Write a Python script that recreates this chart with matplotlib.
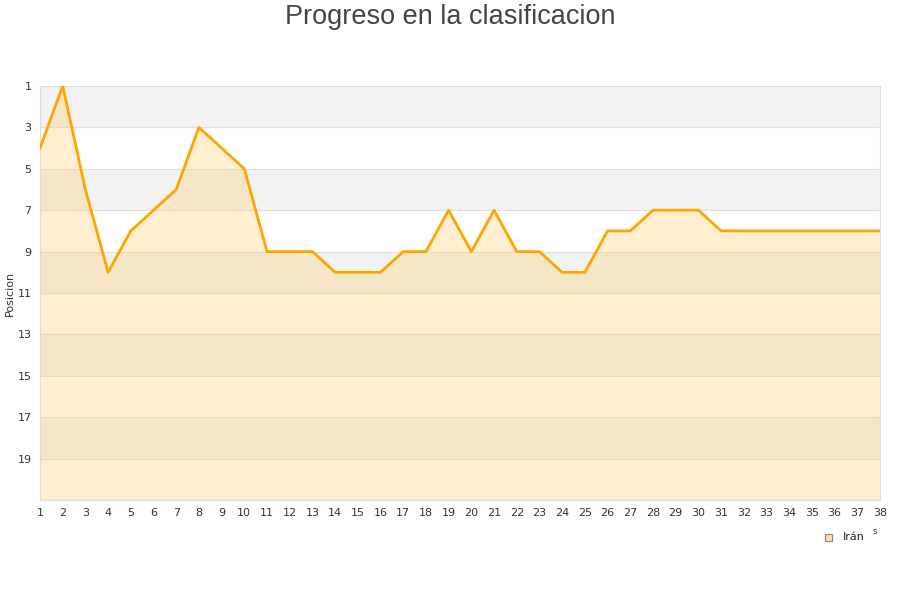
import matplotlib
matplotlib.use("Agg")
import matplotlib.pyplot as plt
from matplotlib.patches import Rectangle

# Data
jornadas = list(range(1, 39))
posicion = [4, 1, 6, 10, 8, 7, 6, 3, 4, 5,
            9, 9, 9, 10, 10, 10, 9, 9, 7, 9,
            7, 9, 9, 10, 10, 8, 8, 7, 7, 7,
            8, 8, 8, 8, 8, 8, 8, 8]
y_ticks = list(range(1, 20, 2))
equipo = "Irán"
titulo = "Progreso en la clasificacion"

fig = plt.figure(figsize=(9, 6), dpi=100)
ax = fig.add_axes([40 / 900, 1 - 500 / 600, 840 / 900, 414 / 600])

# alternating background bands
for y0 in range(1, 21, 4):
    ax.axhspan(y0, y0 + 2, color="#f2f2f2", zorder=0, lw=0)
for y in range(3, 21, 2):
    ax.axhline(y, color="#e0e0e0", lw=0.8, zorder=1)

ax.fill_between(jornadas, posicion, 21, color="#ffcc66", alpha=0.3, lw=0, zorder=2)
ax.plot(jornadas, posicion, color="#ffa500", lw=2.0, zorder=3)

ax.set_xlim(1, 38)
ax.set_ylim(21, 1)
ax.set_xticks(jornadas)
ax.set_yticks(y_ticks)
ax.tick_params(length=0, labelsize=8, colors="#333333", pad=6)
for s in ax.spines.values():
    s.set_color("#dddddd")
ax.set_ylabel("Posicion", fontsize=8, color="#333333")
ax.yaxis.set_label_coords(-0.03, 0.5)

fig.text(0.5, 1 - 17 / 600, titulo, ha="center", va="center",
         fontsize=19.5, color="#444444", family="Liberation Sans")

# legend
fig.patches.append(Rectangle((825 / 900, 1 - 541 / 600), 7 / 900, 7 / 600,
                             transform=fig.transFigure, facecolor="#ffe0a0",
                             edgecolor="#888888", lw=0.8))
fig.text(843 / 900, 1 - 537 / 600, equipo, ha="left", va="center",
         fontsize=8, color="#222222")
fig.text(875 / 900, 1 - 531 / 600, "s", ha="center", va="center",
         fontsize=6, color="#333333")

fig.savefig("out.png", dpi=100)
